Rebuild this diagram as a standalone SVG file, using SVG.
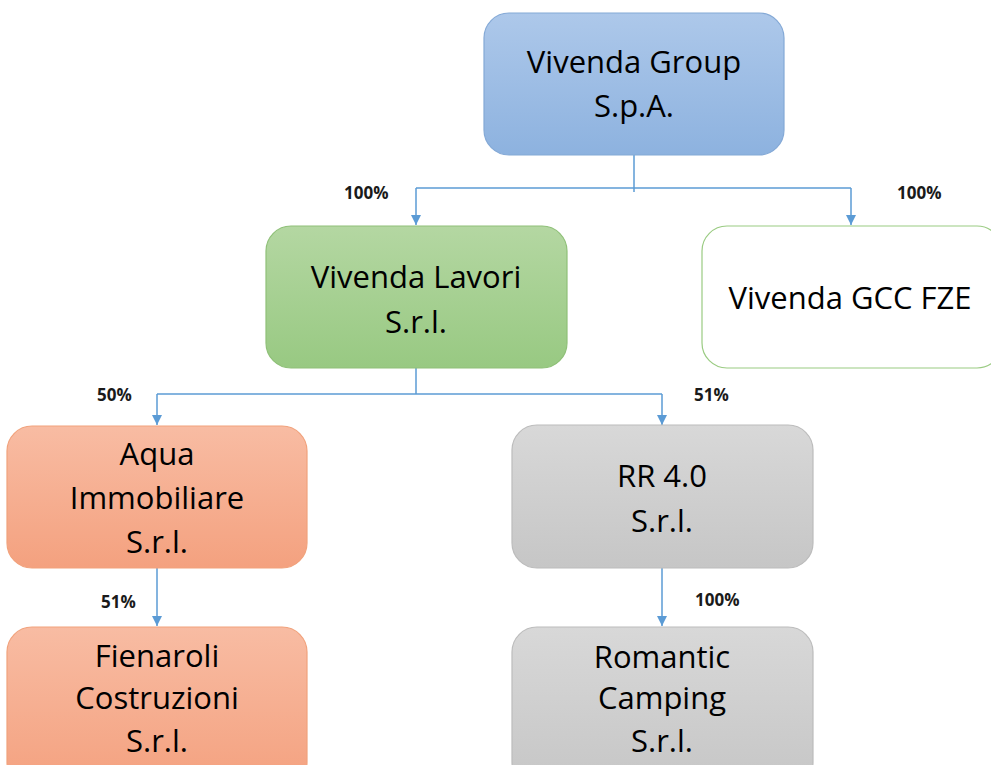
<svg xmlns="http://www.w3.org/2000/svg" width="991" height="765" viewBox="0 0 991 765">
<defs>
<linearGradient id="gBlue" x1="0" y1="0" x2="0" y2="1"><stop offset="0" stop-color="#adc8ea"/><stop offset="1" stop-color="#8db2df"/></linearGradient>
<linearGradient id="gGreen" x1="0" y1="0" x2="0" y2="1"><stop offset="0" stop-color="#b4d7a2"/><stop offset="1" stop-color="#98c982"/></linearGradient>
<linearGradient id="gOrange" x1="0" y1="0" x2="0" y2="1"><stop offset="0" stop-color="#f8bca3"/><stop offset="1" stop-color="#f4a17f"/></linearGradient>
<linearGradient id="gGray" x1="0" y1="0" x2="0" y2="1"><stop offset="0" stop-color="#d8d8d8"/><stop offset="1" stop-color="#c6c6c6"/></linearGradient>
<marker id="arr" viewBox="0 0 10 10" refX="10" refY="5" markerWidth="10" markerHeight="10" markerUnits="userSpaceOnUse" orient="auto"><path d="M0,0 L10,5 L0,10 Z" fill="#5b9bd5"/></marker>
</defs>
<style>
.box{stroke-width:1.2}
.t{font-family:"Open Sans","Liberation Sans",sans-serif;font-size:31px;fill:#000;text-anchor:middle}
.lbl{font-family:"Open Sans","Liberation Sans",sans-serif;font-size:17px;font-weight:bold;fill:#1a1a1a}
.c{fill:none;stroke:#5b9bd5;stroke-width:1.5}
</style>
<rect width="991" height="765" fill="#ffffff"/>
<g id="connectors">
<path class="c" d="M634,155 L634,192"/>
<path class="c" d="M416,188 L851,188"/>
<path class="c" d="M416,188 L416,225" marker-end="url(#arr)"/>
<path class="c" d="M851,188 L851,225" marker-end="url(#arr)"/>
<path class="c" d="M416,368 L416,394"/>
<path class="c" d="M157,394 L662,394"/>
<path class="c" d="M157,394 L157,425" marker-end="url(#arr)"/>
<path class="c" d="M662,394 L662,425" marker-end="url(#arr)"/>
<path class="c" d="M157,568 L157,626" marker-end="url(#arr)"/>
<path class="c" d="M662,568 L662,626" marker-end="url(#arr)"/>
<text class="lbl" x="344" y="199">100%</text>
<text class="lbl" x="897" y="199">100%</text>
<text class="lbl" x="97" y="401">50%</text>
<text class="lbl" x="694" y="401">51%</text>
<text class="lbl" x="101" y="608">51%</text>
<text class="lbl" x="695" y="606">100%</text>
</g>
<g id="vivenda-group">
<rect class="box" x="484" y="13" width="300" height="142" rx="25" fill="url(#gBlue)" stroke="#84a9d6"/>
<text class="t" x="634" y="73">Vivenda Group</text>
<text class="t" x="634" y="117">S.p.A.</text>
</g>
<g id="vivenda-lavori">
<rect class="box" x="266" y="226" width="301" height="142" rx="25" fill="url(#gGreen)" stroke="#8fc078"/>
<text class="t" x="416" y="288">Vivenda Lavori</text>
<text class="t" x="416" y="333">S.r.l.</text>
</g>
<g id="vivenda-gcc">
<rect class="box" x="702" y="226" width="300" height="142" rx="25" fill="#ffffff" stroke="#9acb82"/>
<text class="t" x="850" y="309">Vivenda GCC FZE</text>
</g>
<g id="aqua">
<rect class="box" x="7" y="426" width="300" height="142" rx="25" fill="url(#gOrange)" stroke="#f1a27c"/>
<text class="t" x="157" y="465">Aqua</text>
<text class="t" x="157" y="509">Immobiliare</text>
<text class="t" x="157" y="553">S.r.l.</text>
</g>
<g id="rr40">
<rect class="box" x="512" y="425" width="301" height="143" rx="25" fill="url(#gGray)" stroke="#bcbcbc"/>
<text class="t" x="662" y="487">RR 4.0</text>
<text class="t" x="662" y="532">S.r.l.</text>
</g>
<g id="fienaroli">
<rect class="box" x="7" y="627" width="300" height="160" rx="25" fill="url(#gOrange)" stroke="#f1a27c"/>
<text class="t" x="157" y="667">Fienaroli</text>
<text class="t" x="157" y="709">Costruzioni</text>
<text class="t" x="157" y="752">S.r.l.</text>
</g>
<g id="romantic">
<rect class="box" x="512" y="627" width="301" height="160" rx="25" fill="url(#gGray)" stroke="#bcbcbc"/>
<text class="t" x="662" y="668">Romantic</text>
<text class="t" x="662" y="709">Camping</text>
<text class="t" x="662" y="752">S.r.l.</text>
</g>
</svg>
